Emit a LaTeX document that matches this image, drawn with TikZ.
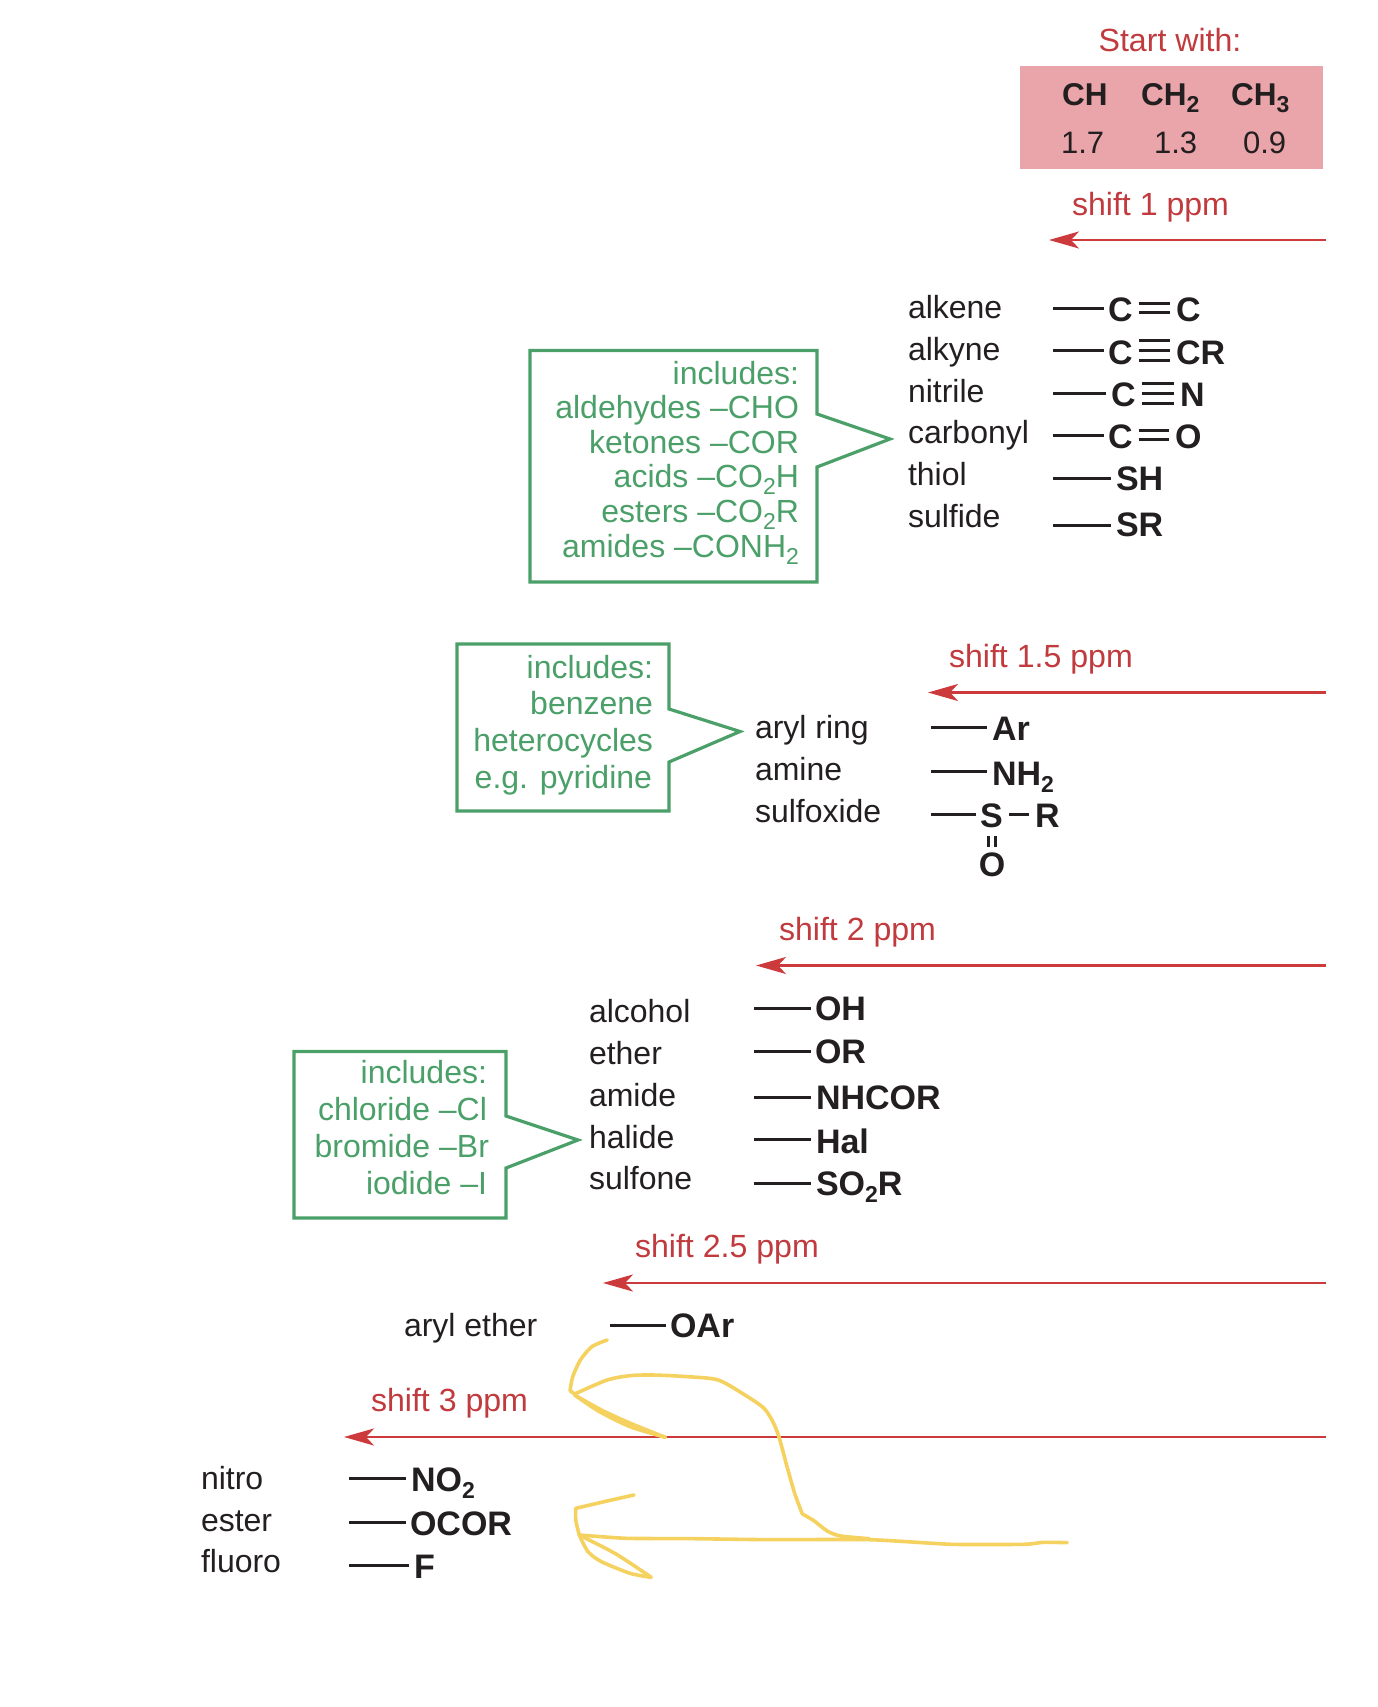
\documentclass[tikz,border=0pt]{standalone}
\usepackage{fontspec}
\setmainfont{Liberation Sans}
\usetikzlibrary{arrows.meta,calc}
\definecolor{ink}{HTML}{231F20}
\definecolor{redtxt}{HTML}{C03A3E}
\definecolor{redline}{HTML}{CC3A3C}
\definecolor{pinkbox}{HTML}{E9A5A9}
\definecolor{greenc}{HTML}{4B9F68}
\definecolor{yellowc}{HTML}{F5D25F}
\newcommand{\subsA}[1]{\raisebox{-7pt}{\fontsize{23}{23}\selectfont #1}}
\tikzset{
  every node/.style={inner sep=0pt,outer sep=0pt,text=ink},
  label/.style={anchor=base west,font=\fontsize{32}{34}\selectfont},
  group/.style={anchor=base west,font=\bfseries\fontsize{34}{36}\selectfont},
  head/.style={anchor=base west,font=\bfseries\fontsize{31.5}{34}\selectfont},
  num/.style={anchor=base west,font=\fontsize{31}{34}\selectfont},
  redlabel/.style={anchor=base west,text=redtxt,font=\fontsize{32.1}{34}\selectfont},
  shiftarrow/.style={draw=redline,line width=2.6pt,-{Stealth[length=30pt,width=17pt,inset=8pt]}},
  bond/.style={draw=ink,line width=3pt},
  thinbond/.style={draw=ink,line width=3pt,shorten <=6pt,shorten >=6pt},
  callout/.style={draw=greenc,line width=3.2pt,line join=miter},
  greentext/.style={anchor=north east,align=right,text=greenc},
  hand/.style={draw=yellowc,line width=3.6pt,line cap=round,line join=round},
}
\begin{document}
\begin{tikzpicture}[x=1pt,y=-1pt]
\useasboundingbox (0,0) rectangle (1377,1707);

% start table
\node[anchor=base,text=redtxt,font=\fontsize{32.1}{34}\selectfont] (start) at (1170,52) {Start with:};
\node[fill=pinkbox,minimum width=303pt,minimum height=103pt,anchor=north west] (table) at (1020,66) {};
\node[head] (h1) at (1062,106) {CH};
\node[head] (h2) at (1141,106) {CH\subsA{2}};
\node[head] (h3) at (1231,106) {CH\subsA{3}};
\node[num] (n1) at (1061,153.5) {1.7};
\node[num] (n2) at (1154,153.5) {1.3};
\node[num] (n3) at (1243,153.5) {0.9};

% shift 1
\node[redlabel] (s1) at (1072,215) {shift 1 ppm};
\coordinate (s1a) at (1326,240); \coordinate (s1b) at (1049,240);
\draw[shiftarrow] (s1a) -- (s1b);

\node[label] (l11) at (908,318) {alkene};
\node[label] (l12) at (908,360) {alkyne};
\node[label] (l13) at (908,402) {nitrile};
\node[label] (l14) at (908,443) {carbonyl};
\node[label] (l15) at (908,485) {thiol};
\node[label] (l16) at (908,527) {sulfide};

\coordinate (b11) at (1053,308);
\coordinate (b12) at (1053,350.5);
\coordinate (b13) at (1053,393);
\coordinate (b14) at (1053,435);
\coordinate (b15) at (1053,478);
\coordinate (b16) at (1053,525);
\node[group] (g11) at (1108,321) {C};
\node[group] (g11b) at (1176,321) {C};
\node[group] (g12) at (1108,364) {C};
\node[group] (g12b) at (1176,364) {CR};
\node[group] (g13) at (1111,406) {C};
\node[group] (g13b) at (1180,406) {N};
\node[group] (g14) at (1108,448) {C};
\node[group] (g14b) at (1175,448) {O};
\node[group] (g15) at (1116,490.5) {SH};
\node[group] (g16) at (1116,536.5) {SR};
\draw[bond] (b11) -- (1104,308);
\draw[bond] (b12) -- (1104,350.5);
\draw[bond] (b13) -- (1106,393);
\draw[bond] (b14) -- (1104,435);
\draw[bond] (b15) -- (1111,478);
\draw[bond] (b16) -- (1111,525);
\foreach \a/\b/\r/\d in {g11/g11b/b11/-4.5,g11/g11b/b11/4.5,g14/g14b/b14/-4.5,g14/g14b/b14/4.5,
  g12/g12b/b12/-10,g12/g12b/b12/0,g12/g12b/b12/10,g13/g13b/b13/-10,g13/g13b/b13/0,g13/g13b/b13/10}{
  \draw[thinbond] ($(\a.east |- \r)+(0,\d)$) -- ($(\b.west |- \r)+(0,\d)$);
}

% callout 1
\draw[callout] (817,414) -- (817,350.5) -- (530,350.5) -- (530,582) -- (817,582) -- (817,467) -- (890,439) -- cycle;
\node[greentext,font=\fontsize{32}{34.6}\selectfont] (c1) at (799,361) {includes:\\aldehydes –CHO\\ketones –COR\\acids –CO\subsA{2}H\\esters –CO\subsA{2}R\\amides –CONH\subsA{2}};

% shift 1.5
\node[redlabel] (s2) at (949,667) {shift 1.5 ppm};
\coordinate (s2a) at (1326,692.5); \coordinate (s2b) at (928,692.5);
\draw[shiftarrow] (s2a) -- (s2b);

\node[label] (l21) at (755,738.5) {aryl ring};
\node[label] (l22) at (755,780) {amine};
\node[label] (l23) at (755,822) {sulfoxide};
\coordinate (b21) at (931,727);
\coordinate (b22) at (931,771);
\coordinate (b23) at (931,814);
\node[group] (g21) at (992,740) {Ar};
\node[group] (g22) at (992,785) {NH\subsA{2}};
\node[group] (g23) at (980,827) {S};
\node[group] (g23b) at (1035,827) {R};
\node[group,anchor=base] (g23c) at (992,876) {O};
\draw[bond] (b21) -- (987,727);
\draw[bond] (b22) -- (987,771);
\draw[bond] (b23) -- (976,814);
\draw[bond] (1009,814) -- (1029,814);
\draw[draw=ink,line width=2.6pt] (988.5,836) -- (988.5,847);
\draw[draw=ink,line width=2.6pt] (995.5,836) -- (995.5,847);

% callout 2
\draw[callout] (669,709) -- (669,644) -- (457,644) -- (457,811) -- (669,811) -- (669,762) -- (740,731.5) -- cycle;
\node[greentext,font=\fontsize{32}{36.7}\selectfont] (c2) at (653,655) {includes:\\benzene\\heterocycles\hspace*{2pt}\\e.g. pyridine\hspace*{1pt}};

% shift 2
\node[redlabel] (s3) at (779,940) {shift 2 ppm};
\coordinate (s3a) at (1326,965.5); \coordinate (s3b) at (756,965.5);
\draw[shiftarrow] (s3a) -- (s3b);

\node[label] (l31) at (589,1022) {alcohol};
\node[label] (l32) at (589,1064) {ether};
\node[label] (l33) at (589,1106) {amide};
\node[label] (l34) at (589,1148) {halide};
\node[label] (l35) at (589,1189.5) {sulfone};
\coordinate (b31) at (754,1008);
\coordinate (b32) at (754,1051);
\coordinate (b33) at (754,1097);
\coordinate (b34) at (754,1139);
\coordinate (b35) at (754,1183);
\node[group] (g31) at (815,1020) {OH};
\node[group] (g32) at (815,1063) {OR};
\node[group] (g33) at (816,1109) {NHCOR};
\node[group] (g34) at (816,1153) {Hal};
\node[group] (g35) at (816,1195) {SO\subsA{2}R};
\draw[bond] (b31) -- (811,1008);
\draw[bond] (b32) -- (811,1051);
\draw[bond] (b33) -- (811,1097);
\draw[bond] (b34) -- (811,1139);
\draw[bond] (b35) -- (811,1183);

% callout 3
\draw[callout] (506,1116) -- (506,1051.5) -- (294,1051.5) -- (294,1218) -- (506,1218) -- (506,1168) -- (578,1140) -- cycle;
\node[greentext,font=\fontsize{32}{37}\selectfont] (c3) at (487,1060.5) {includes:\\chloride –Cl\\bromide –Br\hspace*{-2pt}\null\\iodide –I};

% shift 2.5
\node[redlabel] (s4) at (635,1257) {shift 2.5 ppm};
\coordinate (s4a) at (1326,1283); \coordinate (s4b) at (603,1283);
\draw[shiftarrow] (s4a) -- (s4b);
\node[label] (l41) at (404,1336.5) {aryl ether};
\coordinate (b41) at (610,1325);
\node[group] (g41) at (670,1337) {OAr};
\draw[bond] (b41) -- (666,1325);

% shift 3
\node[redlabel] (s5) at (371,1411) {shift 3 ppm};
\coordinate (s5a) at (1326,1437); \coordinate (s5b) at (344,1437);
\draw[shiftarrow] (s5a) -- (s5b);
\node[label] (l51) at (201,1489) {nitro};
\node[label] (l52) at (201,1531) {ester};
\node[label] (l53) at (201,1572) {fluoro};
\coordinate (b51) at (349,1478);
\coordinate (b52) at (349,1522);
\coordinate (b53) at (349,1565);
\node[group] (g51) at (411,1491.5) {NO\subsA{2}};
\node[group] (g52) at (410,1535.5) {OCOR};
\node[group] (g53) at (414,1578) {F};
\draw[bond] (b51) -- (406,1478);
\draw[bond] (b52) -- (406,1522);
\draw[bond] (b53) -- (409,1565);

% hand-drawn yellow arrows
\begin{scope}[shift={(500,1300)},x=0.3827pt,y=-0.3333pt]
\draw[hand] plot[smooth,tension=.45] coordinates {(280,120)(240,140)(210,180)(190,230)(183,272)};
\draw[hand] (183,272) -- (195,282);
\draw[hand] plot[smooth,tension=.45] coordinates {(195,282)(280,240)(340,227)(400,225)(490,230)(570,240)(640,285)(690,325)(715,370)(730,415)(750,500)(770,580)(790,642)};
\draw[hand] plot[smooth,tension=.45] coordinates {(790,642)(820,662)(855,693)(890,708)(965,716)};
\draw[hand] plot[smooth,tension=.45] coordinates {(195,285)(260,335)(340,380)(432,412)};
\draw[hand] plot[smooth,tension=.45] coordinates {(432,412)(345,372)(265,330)(195,285)};
\draw[hand] plot[smooth,tension=.45] coordinates {(350,585)(280,603)(198,625)};
\draw[hand] plot[smooth,tension=.45] coordinates {(198,625)(198,660)(207,705)};
\draw[hand] plot[smooth,tension=.3] coordinates {(207,705)(330,715)(500,716)(700,719)(965,719)(1180,733)(1370,733)(1420,727)(1482,728)};
\draw[hand] plot[smooth,tension=.45] coordinates {(207,705)(230,755)(265,785)(340,820)(395,832)};
\draw[hand] plot[smooth,tension=.45] coordinates {(395,832)(380,820)(300,760)(207,705)};
\end{scope}
\end{tikzpicture}
\end{document}
